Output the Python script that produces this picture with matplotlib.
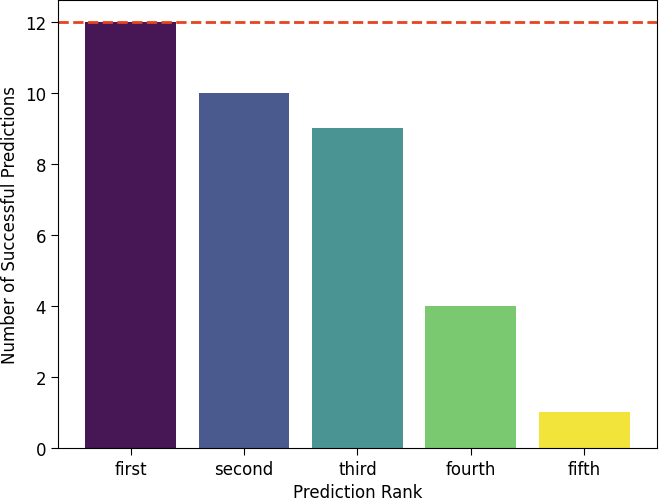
import matplotlib
matplotlib.use("Agg")
import matplotlib.pyplot as plt

ranks = ["first", "second", "third", "fourth", "fifth"]
successes = [12, 10, 9, 4, 1]
max_possible = 12

BAR_COLORS = ["#471755", "#4a5a8f", "#4a9594", "#7ac86f", "#f3e43c"]

plt.rcParams["font.size"] = 12

fig = plt.figure(figsize=(6.61, 5.02), dpi=100)
ax = fig.add_axes([0.0877, 0.1056, 0.906, 0.892])
ax.bar(ranks, successes, color=BAR_COLORS, width=0.8)
ax.axhline(max_possible, color="#e8431f", linestyle="--", linewidth=2)
ax.tick_params(length=5)
ax.set_xlabel("Prediction Rank")
ax.set_ylabel("Number of Successful Predictions")
fig.savefig("out.png")
